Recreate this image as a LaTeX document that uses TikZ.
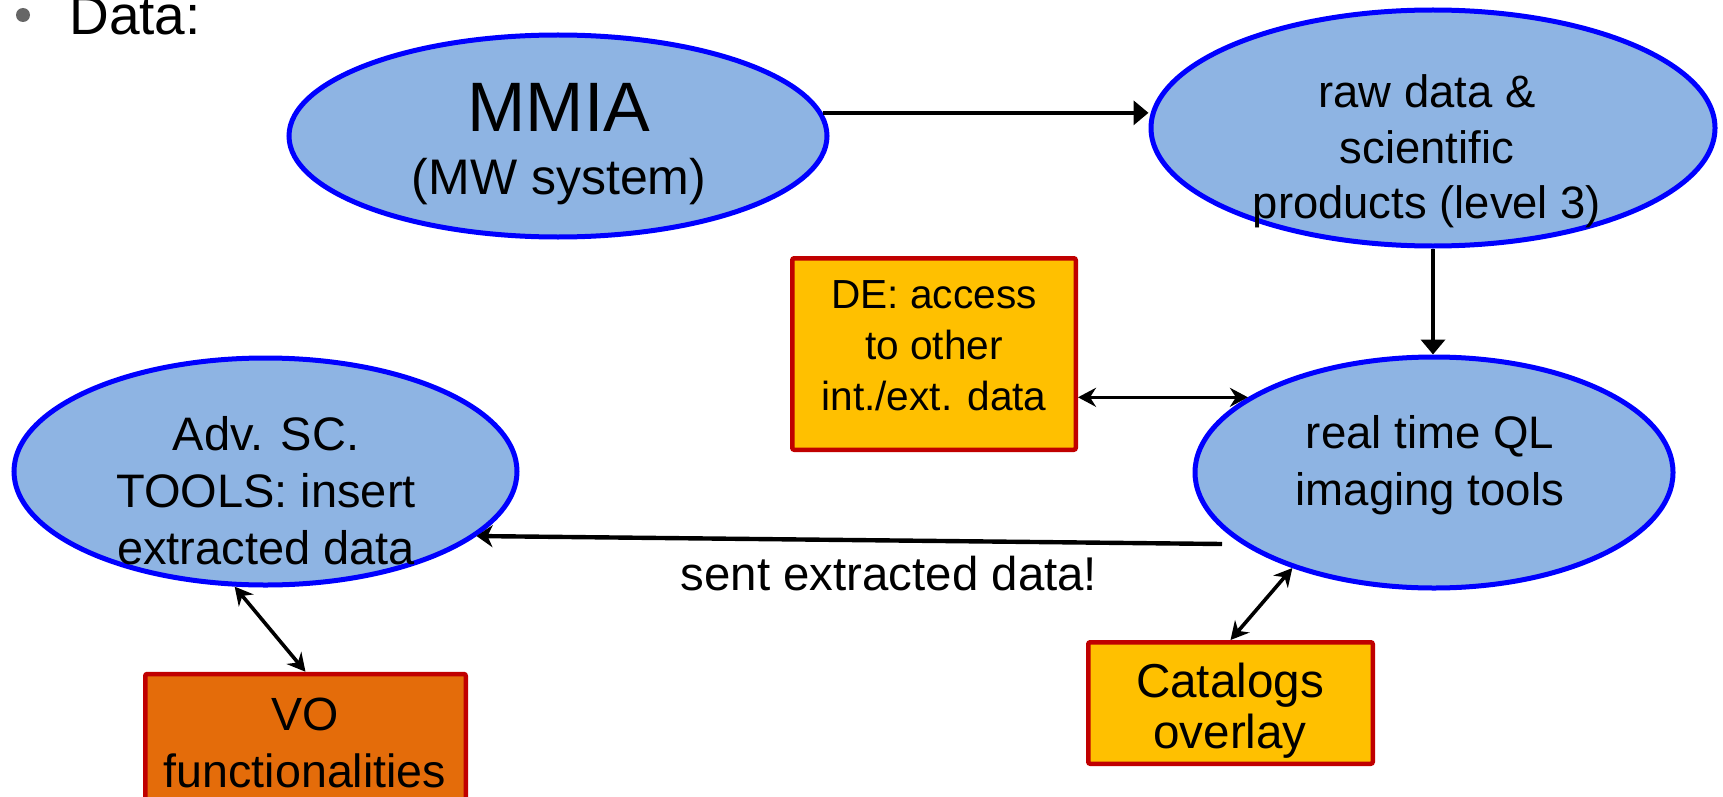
\documentclass[tikz,border=0pt]{standalone}
\usepackage{fontspec}
\setmainfont{Liberation Sans}
\usetikzlibrary{arrows.meta,shapes.geometric}
\definecolor{ellfill}{HTML}{8EB4E3}
\definecolor{ellline}{HTML}{0000FF}
\definecolor{boxgold}{HTML}{FFC000}
\definecolor{boxorange}{HTML}{E46C0A}
\definecolor{boxline}{HTML}{C00000}
\definecolor{bulletgray}{HTML}{666666}
\begin{document}
\begin{tikzpicture}[x=0.5pt,y=-0.5pt,
  ell/.style={ellipse, draw=ellline, fill=ellfill, line width=2.5pt, inner sep=0pt},
  box/.style={rectangle, draw=boxline, line width=2.25pt, inner sep=0pt, rounded corners=1pt},
  txt/.style={align=center, anchor=base, inner sep=0pt, font=\fontsize{23}{28.5}\selectfont},
  tri/.style={-{Triangle[length=7.5pt,width=12pt]}, line width=2.2pt},
  dbl/.style={{Stealth[length=9pt,width=9.5pt,inset=3pt]}-{Stealth[length=9pt,width=9.5pt,inset=3pt]}, line width=1.8pt},
  sentarrow/.style={-{Stealth[length=8pt,width=11pt,inset=2.5pt]}, line width=2.2pt}]
\useasboundingbox (0,0) rectangle (1723,797);
% bullet title
\fill[bulletgray] (23,15) circle[radius=3.5pt];
\node[anchor=base west, inner sep=0pt, font=\fontsize{27.5}{33}\selectfont] (data) at (69,35) {Data:};
% ellipses
\node[ell, minimum width=269pt, minimum height=101pt] (mmia) at (558,136) {};
\node[ell, minimum width=282pt, minimum height=118pt] (raw) at (1433,128) {};
\node[ell, minimum width=239pt, minimum height=115.5pt] (rt) at (1434,472.5) {};
\node[ell, minimum width=251.5pt, minimum height=113.5pt] (adv) at (265.5,471.5) {};
% boxes
\node[box, fill=boxgold, minimum width=141.75pt, minimum height=95.75pt] (de) at (934,354) {};
\node[box, fill=boxgold, minimum width=142.25pt, minimum height=60.75pt] (cat) at (1230.5,703) {};
\node[box, fill=boxorange, minimum width=160.25pt, minimum height=65pt] (vo) at (305.5,739) {};
% texts (base anchor = last line's baseline)
\node[anchor=base, inner sep=0pt, font=\fontsize{35}{40}\selectfont] (mmiat) at (559,132) {MMIA};
\node[anchor=base, inner sep=0pt, font=\fontsize{25}{30}\selectfont] (mwt) at (559,194) {(MW system)};
\node[txt, font=\fontsize{22.7}{27.5}\selectfont] (rawt) at (1427,218) {raw data \&\\scientific\\products (level 3)};
\node[txt, font=\fontsize{22.8}{28.5}\selectfont] (rtt) at (1430,505) {real time QL\\imaging tools};
\node[txt, font=\fontsize{23.5}{28.5}\selectfont] (advt) at (266,564) {Adv. SC.\\TOOLS: insert\\extracted data};
\node[txt, font=\fontsize{20.3}{25.5}\selectfont] (det) at (934,410) {DE: access\\to other\\int./ext. data};
\node[txt, font=\fontsize{23.8}{25.5}\selectfont] (catt) at (1230,748) {Catalogs\\overlay};
\node[txt, font=\fontsize{23.3}{28.5}\selectfont] (vot) at (305,787) {VO\\functionalities};
% connectors
\draw[tri] (mmia.5) -- (mmia.5 -| raw.west);
\draw[tri] (raw.south) -- (raw.south |- rt.north);
\draw[dbl] (de.east |- rt.158) -- (rt.158);
\coordinate (sentstart) at (1222,544);
\draw[sentarrow] (sentstart) -- (adv.-17);
\node[anchor=base, inner sep=0pt, font=\fontsize{23.7}{28}\selectfont] (sentlbl) at (889,590) {sent extracted data!};
\draw[dbl] (adv.255) -- (vo.north);
\draw[dbl] (rt.214) -- (cat.north);
\end{tikzpicture}
\end{document}
